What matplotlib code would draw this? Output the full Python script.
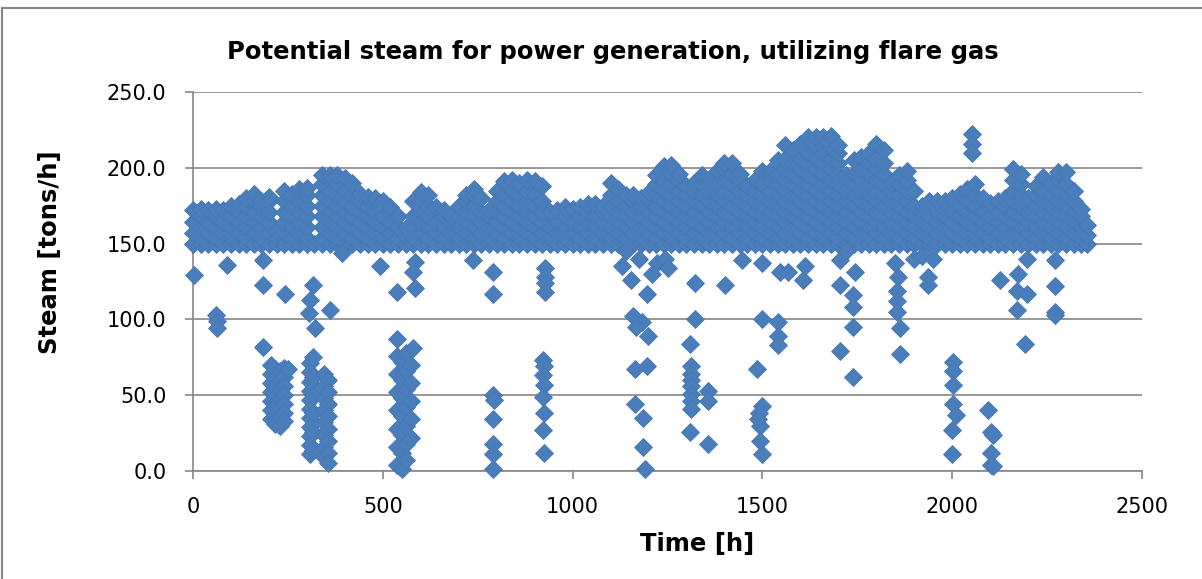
import matplotlib
matplotlib.use("Agg")
from matplotlib import pyplot as plt
from matplotlib.lines import Line2D

# dense band of hourly values (columns every 20 h)
band_hours = list(range(0, 2360, 20)) + [2355]
band_steam = [
    [150, 157, 164, 172], [150, 154, 161, 168, 173], [150, 157, 164, 172], [150, 154, 161, 168, 173],
    [150, 157, 164, 172], [150, 154, 161, 168, 175], [150, 157, 164, 171, 176], [150, 154, 161, 168, 175, 180],
    [150, 157, 164, 171, 178, 183], [150, 154, 161, 168, 175, 178], [150, 157, 164, 171, 178, 181], [150, 154, 158],
    [150, 157, 164, 171, 178, 185], [150, 154, 161, 168, 175, 183], [150, 157, 164, 171, 178, 186], [150, 154, 161, 168, 175, 182, 187],
    [150], [150, 154, 161, 168, 175, 182, 189, 195], [150, 157, 164, 171, 178, 185, 192, 195], [150, 154, 161, 168, 175, 182, 189, 195],
    [150, 157, 164, 171, 178, 185, 193], [150, 154, 161, 168, 175, 182, 190], [150, 157, 164, 171, 178, 183], [150, 154, 161, 168, 175, 181],
    [150, 157, 164, 171, 180], [150, 154, 161, 168, 178], [150, 157, 164, 171, 174], [150, 154, 161, 168],
    [150, 155, 160], [150, 154, 161, 168, 178], [150, 157, 164, 171, 178, 184], [150, 154, 161, 168, 175, 182],
    [150, 157, 164, 174], [150, 154, 161, 168, 172], [150, 157, 164, 168], [150, 154, 161, 168, 175],
    [150, 157, 164, 171, 178, 182], [150, 154, 161, 168, 175, 182, 186], [150, 157, 164, 171, 180], [150, 154, 161, 168, 172],
    [150, 157, 164, 171, 178, 185], [150, 154, 161, 168, 175, 182, 191], [150, 157, 164, 171, 178, 185, 192], [150, 154, 161, 168, 175, 182, 190],
    [150, 157, 164, 171, 178, 185, 192], [150, 154, 161, 168, 175, 182, 191], [150, 157, 164, 171, 178, 188], [150, 154, 161, 171],
    [150, 157, 164, 172], [150, 154, 161, 168, 174], [150, 157, 164, 173], [150, 154, 161, 168, 174],
    [150, 157, 164, 171, 176], [150, 154, 161, 168, 176], [150, 157, 164, 171, 175], [150, 154, 161, 168, 175, 182, 190],
    [150, 157, 164, 171, 178, 186], [150, 154, 161, 168, 175, 182], [150, 157, 164, 171, 178, 182], [150, 154, 161, 168, 175, 180],
    [150, 157, 164, 171, 178, 184], [150, 154, 161, 168, 175, 182, 189, 195], [150, 157, 164, 171, 178, 185, 192, 201], [150, 154, 161, 168, 175, 182, 189, 196, 202],
    [150, 157, 164, 171, 178, 185, 192, 196], [150, 154, 161, 168, 175, 182, 188], [150, 157, 164, 171, 178, 185, 190], [150, 154, 161, 168, 175, 182, 189, 195],
    [150, 157, 164, 171, 178, 185, 192], [150, 154, 161, 168, 175, 182, 189, 198], [150, 157, 164, 171, 178, 185, 192, 199, 203], [150, 154, 161, 168, 175, 182, 189, 196, 203],
    [150, 157, 164, 171, 178, 185, 192, 196], [150, 154, 161, 168, 175, 182, 188], [150, 157, 164, 171, 178, 185, 192], [150, 154, 161, 168, 175, 182, 189, 198],
    [150, 157, 164, 171, 178, 185, 192, 198], [150, 154, 161, 168, 175, 182, 189, 196, 205], [150, 157, 164, 171, 178, 185, 192, 199, 206, 215], [150, 154, 161, 168, 175, 182, 189, 196, 203, 212],
    [150, 157, 164, 171, 178, 185, 192, 199, 206, 216], [150, 154, 161, 168, 175, 182, 189, 196, 203, 210, 220], [150, 157, 164, 171, 178, 185, 192, 199, 206, 213, 220], [150, 154, 161, 168, 175, 182, 189, 196, 203, 210, 220],
    [150, 157, 164, 171, 178, 185, 192, 199, 206, 213, 221], [150, 154, 161, 168, 175, 182, 189, 196, 203, 210, 215], [150, 157, 164, 171, 178, 185, 195], [150, 154, 161, 168, 175, 182, 189, 196, 205],
    [150, 157, 164, 171, 178, 185, 192, 199, 207], [150, 154, 161, 168, 175, 182, 189, 196, 203, 210], [150, 157, 164, 171, 178, 185, 192, 199, 206, 216], [150, 154, 161, 168, 175, 182, 189, 196, 203, 212],
    [150, 157, 164, 171, 178, 185, 190], [150, 154, 161, 168, 175, 182, 189, 195], [150, 157, 164, 171, 178, 185, 192, 198], [150, 154, 161, 168, 175, 185],
    [150, 157, 164, 171, 175], [150, 154, 161, 168, 178], [150, 157, 164, 171, 178], [150, 154, 161, 168, 178],
    [150, 157, 164, 171, 180], [150, 154, 161, 168, 175, 183], [150, 157, 164, 171, 178, 186], [150, 154, 161, 168, 175, 182, 189],
    [150, 157, 164, 171, 180], [150, 154, 161, 168, 177], [150, 157, 164, 171, 178], [150, 154, 161, 168, 175, 180],
    [150, 157, 164, 171, 178, 185, 192, 199], [150, 154, 161, 168, 175, 182, 189, 196], [150, 157, 164, 171, 180], [150, 154, 161, 168, 175, 182, 188],
    [150, 157, 164, 171, 178, 185, 194], [150, 154, 161, 168, 175, 182, 190], [150, 157, 164, 171, 178, 185, 192, 197], [150, 154, 161, 168, 175, 182, 189, 197],
    [150, 157, 164, 171, 178, 185], [150, 154, 161, 168, 173], [150, 156, 162],
]

# scattered low readings (hour, steam)
low_hours = [
    3, 89, 61, 63, 64, 185, 185, 242, 317, 309, 305, 321, 361, 392, 185,
    205, 205, 205, 205, 205, 205, 205, 215, 215, 215, 215, 215, 215, 215,
    228, 228, 228, 228, 228, 228, 228, 240, 240, 240, 240, 240, 240, 240, 251,
    308, 308, 308, 308, 308, 308, 308, 308, 308, 308, 308, 317, 317, 317, 317, 317, 317,
    345, 345, 345, 345, 345, 345, 345, 345, 355, 355, 355, 355, 355, 355, 355, 355,
    493, 537, 585, 585, 580, 738,
    537, 537, 537, 537, 537, 537, 537, 537, 550, 550, 550, 550, 550, 550, 550,
    562, 562, 562, 562, 562, 562, 562, 575, 575, 575, 575, 575, 580,
    791, 791, 789, 792, 789, 789, 789, 791,
    927, 927, 927, 927, 922, 925, 922, 925, 922, 925, 922, 925,
    1130, 1153, 1197, 1223, 1140, 1175, 1210,
    1160, 1182, 1168, 1199, 1164, 1195, 1164, 1186, 1186, 1190,
    1243, 1250, 1322, 1401, 1322, 1309, 1313, 1313, 1313, 1313, 1313, 1313, 1357, 1357, 1313, 1309, 1357,
    1445, 1498, 1546, 1568, 1607, 1612,
    1498, 1542, 1542, 1542, 1485, 1498, 1490, 1493, 1489, 1493, 1498,
    1704, 1743, 1704, 1739, 1739, 1739, 1704, 1739, 1720,
    1850, 1858, 1854, 1854, 1854, 1863, 1863,
    1937, 1937, 1900, 1920, 1950,
    2003, 2003, 2003, 2003, 2010, 1999, 1999,
    2095, 2102, 2102, 2102, 2108, 2108,
    2051, 2053, 2051,
    2196, 2270, 2126, 2174, 2170, 2196, 2170, 2270, 2270, 2272, 2192,
]
low_steam = [
    129, 136, 103, 99, 94, 139, 123, 117, 123, 113, 104, 94, 106, 144, 82,
    70, 64, 58, 52, 46, 40, 34, 67, 61, 55, 49, 43, 37, 31,
    66, 60, 54, 48, 42, 36, 30, 68, 62, 56, 50, 44, 38, 33, 67,
    71, 65, 59, 53, 47, 41, 35, 29, 23, 17, 11, 75, 62, 50, 38, 26, 14,
    64, 56, 48, 40, 32, 24, 16, 9, 60, 52, 44, 36, 28, 20, 12, 5,
    135, 118, 138, 121, 131, 139,
    87, 76, 64, 52, 40, 28, 16, 4, 72, 60, 48, 36, 24, 12, 1,
    78, 66, 54, 42, 30, 18, 7, 70, 58, 46, 34, 22, 81,
    131, 117, 50, 47, 34, 18, 11, 1,
    134, 128, 124, 118, 73, 69, 63, 57, 49, 38, 27, 12,
    135, 126, 117, 137, 145, 140, 130,
    102, 98, 95, 89, 67, 69, 44, 35, 16, 1,
    140, 134, 124, 123, 100, 84, 69, 64, 60, 56, 51, 46, 53, 46, 41, 26, 18,
    139, 137, 131, 131, 126, 135,
    100, 98, 89, 83, 67, 43, 38, 30, 34, 20, 11,
    139, 131, 123, 116, 108, 95, 79, 62, 145,
    137, 128, 119, 112, 105, 94, 77,
    128, 123, 140, 142, 140,
    72, 66, 57, 44, 37, 27, 11,
    40, 26, 12, 4, 24, 3,
    222, 216, 210,
    140, 139, 126, 130, 119, 117, 106, 122, 105, 103, 84,
]

grey = "#868686"
blue = "#4A7EBB"

fig = plt.figure(figsize=(12.02, 5.79), dpi=100)
ax = fig.add_axes([193 / 1202, 1 - 471 / 579, 949 / 1202, 379 / 579])

xs, ys = [], []
for h, col in zip(band_hours, band_steam):
    for v in col:
        xs.append(h)
        ys.append(v)
xs += low_hours
ys += low_steam

ax.plot(xs, ys, linestyle="none", marker="D", markersize=9.5,
        markerfacecolor=blue, markeredgecolor="#4677B5", markeredgewidth=0.6,
        clip_on=False, zorder=3)

ax.set_xlim(0, 2500)
ax.set_ylim(0, 250)
ax.set_xticks([0, 500, 1000, 1500, 2000, 2500])
ax.set_yticks([0, 50, 100, 150, 200, 250])
ax.set_yticklabels(["0.0", "50.0", "100.0", "150.0", "200.0", "250.0"])
ax.grid(axis="y", color=grey, linewidth=1.2)
ax.set_axisbelow(True)
for s in ["top", "right"]:
    ax.spines[s].set_visible(False)
for s in ["left", "bottom"]:
    ax.spines[s].set_color(grey)
    ax.spines[s].set_linewidth(1.2)
ax.tick_params(axis="both", colors=grey, length=6, width=1.2, labelsize=15,
               labelcolor="black", direction="out")
ax.tick_params(axis="y", pad=13)
ax.tick_params(axis="x", pad=13)

fig.text(613 / 1202, 1 - 52 / 579, "Potential steam for power generation, utilizing flare gas",
         ha="center", va="center", fontsize=17.5, fontweight="bold")
fig.text(50 / 1202, 1 - 252 / 579, "Steam [tons/h]", rotation=90,
         ha="center", va="center", fontsize=17.5, fontweight="bold")
fig.text(697 / 1202, 1 - 544 / 579, "Time [h]",
         ha="center", va="center", fontsize=17.5, fontweight="bold")

# outer chart frame
fig.add_artist(Line2D([2 / 1202, 2 / 1202], [0, 1 - 8 / 579], color=grey, lw=1.5))
fig.add_artist(Line2D([2 / 1202, 1], [1 - 8 / 579, 1 - 8 / 579], color=grey, lw=1.5))

fig.savefig("out.png", dpi=100)
